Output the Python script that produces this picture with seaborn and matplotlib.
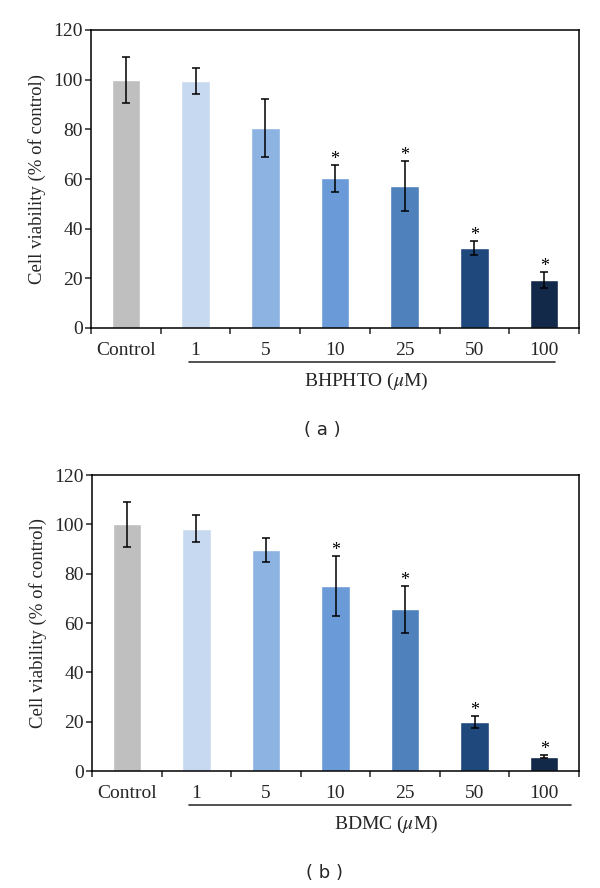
"""
Cell viability bar charts, panels (a) BHPHTO and (b) BDMC
"""

import matplotlib
matplotlib.use("Agg")
import matplotlib.pyplot as plt
import matplotlib.ticker as mticker
import pandas as pd
import seaborn as sns

# --- data -------------------------------------------------------------
categories = ["Control", "1", "5", "10", "25", "50", "100"]

bhphto_mean = [100.0, 99.5, 80.5, 60.3, 57.3, 32.2, 19.3]
bhphto_err = [9.3, 5.2, 11.7, 5.5, 10.0, 2.8, 3.3]
bhphto_sig = [False, False, False, True, True, True, True]

bdmc_mean = [100.0, 98.3, 89.7, 75.0, 65.5, 19.8, 5.8]
bdmc_err = [9.0, 5.5, 4.9, 12.0, 9.5, 2.5, 0.7]
bdmc_sig = [False, False, False, True, True, True, True]

colors = ["#BFBFBF", "#C6D9F1", "#8DB3E2", "#6A9BD8", "#4F81BD", "#1F497D", "#13294A"]

# --- style ------------------------------------------------------------
sns.set_style("white")
plt.rcParams["font.family"] = ["Liberation Serif", "DejaVu Serif"]
plt.rcParams["mathtext.fontset"] = "stix"

fig = plt.figure(figsize=(6.0, 8.88), dpi=100, facecolor="white")


def draw_panel(ax, means, errs, sig, drug, under_x, xlab_x):
    df = pd.DataFrame({"cat": categories, "val": means})
    sns.barplot(
        data=df, x="cat", y="val", hue="cat", order=categories,
        palette=colors, width=0.41, saturation=1, legend=False, ax=ax,
    )
    ax.errorbar(
        range(len(categories)), means, yerr=errs, fmt="none",
        ecolor="black", elinewidth=1.1, capsize=2.7, capthick=1.1,
    )
    for i, (m, e, s) in enumerate(zip(means, errs, sig)):
        if s:
            ax.text(i, m + e - 1.2, "*", ha="center", va="bottom",
                    fontsize=13, color="black")

    ax.set_xlim(-0.5, len(categories) - 0.5)
    ax.set_ylim(0, 120)
    ax.yaxis.set_major_locator(mticker.MultipleLocator(20))
    ax.set_xlabel("")
    ax.set_ylabel("Cell viability (% of control)", fontsize=13.5, labelpad=5)

    # excel-style ticks between categories
    ax.set_xticks(range(len(categories)))
    ax.set_xticklabels(categories, fontsize=14)
    ax.xaxis.set_minor_locator(mticker.FixedLocator(
        [i - 0.5 for i in range(len(categories) + 1)]))
    ax.tick_params(axis="x", which="major", length=0, pad=10)
    ax.tick_params(axis="x", which="minor", length=4, width=1.1,
                   direction="out", bottom=True)
    ax.tick_params(axis="y", which="major", length=4, width=1.1,
                   direction="out", left=True, labelsize=14, pad=2)

    for sp in ax.spines.values():
        sp.set_visible(True)
        sp.set_color("black")
        sp.set_linewidth(1.1)

    tr = ax.get_xaxis_transform()
    ax.plot(under_x, [-0.115, -0.115], color="#333333", lw=1.2,
            transform=tr, clip_on=False)
    ax.text(xlab_x, -0.18, drug + r" ($\mu$M)", transform=tr,
            ha="center", va="center", fontsize=14)


ax_a = fig.add_axes([91 / 600, 1 - 328 / 888, 488 / 600, 298 / 888])
draw_panel(ax_a, bhphto_mean, bhphto_err, bhphto_sig, "BHPHTO",
           [0.9, 6.16], 3.45)

ax_b = fig.add_axes([92 / 600, 1 - 771 / 888, 487 / 600, 296 / 888])
draw_panel(ax_b, bdmc_mean, bdmc_err, bdmc_sig, "BDMC",
           [0.9, 6.38], 3.72)

fig.text(0.537, 1 - 430 / 888, "( a )", ha="center", va="center",
         fontsize=13, family=["DejaVu Sans"])
fig.text(0.54, 1 - 873 / 888, "( b )", ha="center", va="center",
         fontsize=13, family=["DejaVu Sans"])

fig.savefig("out.png", dpi=100, facecolor="white")
